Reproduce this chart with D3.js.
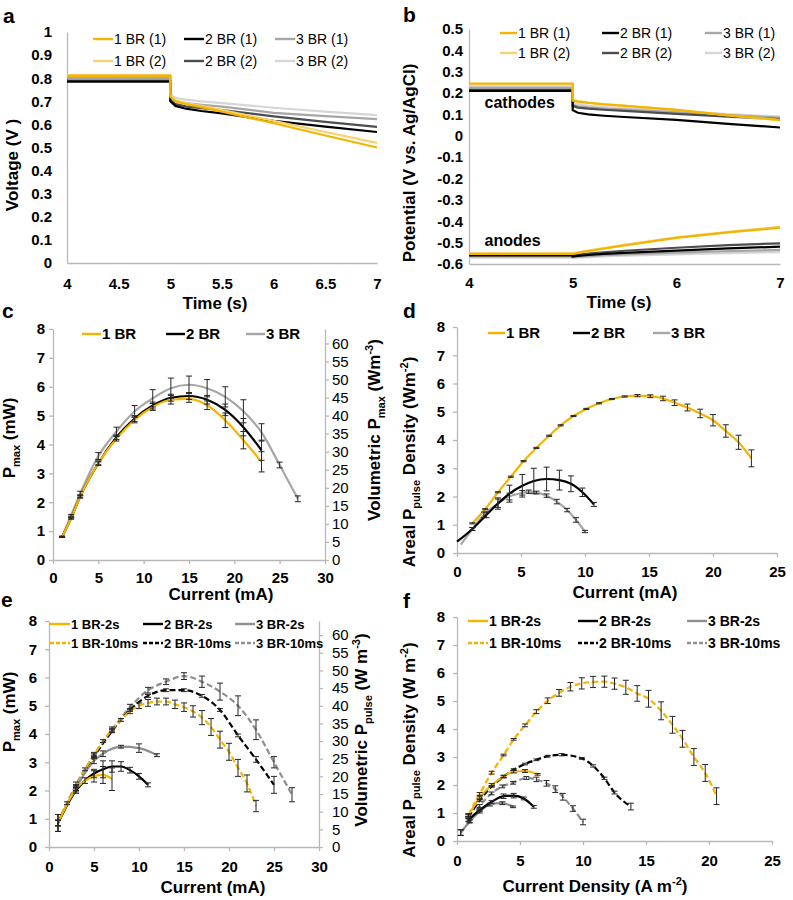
<!DOCTYPE html>
<html>
<head>
<meta charset="utf-8">
<script src="https://cdn.jsdelivr.net/npm/d3@7"></script>
<style>
  body { margin: 0; background: #fff; }
  svg text { font-family: "Liberation Sans", Arial, Helvetica, sans-serif; fill: #000; }
</style>
</head>
<body>
<div id="chart"></div>
<script>
// ---------- panel a / b : step response ----------
var stepTime = [4, 5, 5, 5.05, 5.15, 5.3, 5.5, 6, 6.5, 7];
var aTicksX = [4, 4.5, 5, 5.5, 6, 6.5, 7];
var aTicksY = [0, 0.1, 0.2, 0.3, 0.4, 0.5, 0.6, 0.7, 0.8, 0.9, 1];
var a1BR1 = [0.810, 0.810, 0.720, 0.700, 0.688, 0.675, 0.655, 0.605, 0.552, 0.500];
var a1BR2 = [0.815, 0.815, 0.725, 0.705, 0.692, 0.680, 0.662, 0.615, 0.567, 0.520];
var a2BR1 = [0.785, 0.785, 0.700, 0.680, 0.668, 0.658, 0.648, 0.615, 0.590, 0.567];
var a2BR2 = [0.790, 0.790, 0.705, 0.688, 0.678, 0.670, 0.662, 0.635, 0.611, 0.589];
var a3BR1 = [0.800, 0.800, 0.715, 0.700, 0.692, 0.685, 0.677, 0.650, 0.636, 0.623];
var a3BR2 = [0.808, 0.808, 0.730, 0.715, 0.707, 0.700, 0.692, 0.672, 0.655, 0.640];

var bTicksX = [4, 5, 6, 7];
var bTicksY = [-0.6, -0.5, -0.4, -0.3, -0.2, -0.1, 0, 0.1, 0.2, 0.3, 0.4, 0.5];
var bC1BR1 = [0.245, 0.245, 0.165, 0.160, 0.154, 0.147, 0.140, 0.121, 0.097, 0.075];
var bC1BR2 = [0.240, 0.240, 0.170, 0.163, 0.156, 0.149, 0.142, 0.122, 0.096, 0.072];
var bC2BR1 = [0.210, 0.210, 0.120, 0.108, 0.100, 0.094, 0.088, 0.075, 0.056, 0.039];
var bC2BR2 = [0.215, 0.215, 0.140, 0.132, 0.127, 0.122, 0.117, 0.103, 0.090, 0.078];
var bC3BR1 = [0.225, 0.225, 0.145, 0.138, 0.133, 0.128, 0.123, 0.110, 0.097, 0.085];
var bC3BR2 = [0.230, 0.230, 0.155, 0.147, 0.141, 0.135, 0.129, 0.115, 0.102, 0.090];
var bA1BR1 = [-0.553, -0.553, -0.553, -0.548, -0.540, -0.528, -0.513, -0.478, -0.452, -0.430];
var bA1BR2 = [-0.550, -0.550, -0.550, -0.545, -0.537, -0.525, -0.510, -0.475, -0.449, -0.426];
var bA2BR1 = [-0.560, -0.560, -0.565, -0.562, -0.558, -0.553, -0.548, -0.537, -0.527, -0.519];
var bA2BR2 = [-0.555, -0.555, -0.560, -0.556, -0.551, -0.545, -0.538, -0.524, -0.512, -0.503];
var bA3BR1 = [-0.565, -0.565, -0.568, -0.566, -0.563, -0.559, -0.555, -0.547, -0.540, -0.534];
var bA3BR2 = [-0.570, -0.570, -0.572, -0.570, -0.568, -0.565, -0.561, -0.555, -0.549, -0.544];

// ---------- panel c : Pmax vs current ----------
var powTicksY = [0, 1, 2, 3, 4, 5, 6, 7, 8];
var volTicksY = [0, 5, 10, 15, 20, 25, 30, 35, 40, 45, 50, 55, 60];
var curTicks30 = [0, 5, 10, 15, 20, 25, 30];
var curTicks25 = [0, 5, 10, 15, 20, 25];
var cX12 = [1, 2, 3, 5, 7, 9, 11, 13, 15, 17, 19, 21, 23];
var c1BR = [0.8, 1.45, 2.2, 3.35, 4.2, 4.85, 5.3, 5.55, 5.58, 5.36, 4.84, 4.15, 3.4];
var c1BRerr = [0.02, 0.03, 0.05, 0.08, 0.08, 0.1, 0.12, 0.15, 0.12, 0.15, 0.25, 0.3, 0.35];
var c2BR = [0.8, 1.45, 2.2, 3.35, 4.25, 4.9, 5.35, 5.62, 5.68, 5.55, 5.2, 4.6, 3.8];
var c2BRerr = [0.02, 0.03, 0.05, 0.05, 0.08, 0.1, 0.12, 0.12, 0.12, 0.15, 0.2, 0.3, 0.35];
var cX3 = [1, 2, 3, 5, 7, 9, 11, 13, 15, 17, 19, 21, 23, 25, 27];
var c3BR = [0.8, 1.55, 2.3, 3.6, 4.45, 5.15, 5.6, 5.95, 6.07, 5.95, 5.65, 5.15, 4.42, 3.29, 2.12];
var c3BRerr = [0.02, 0.03, 0.08, 0.12, 0.15, 0.2, 0.3, 0.35, 0.3, 0.3, 0.35, 0.4, 0.3, 0.1, 0.1];

// ---------- panel d : areal pulse density ----------
var dX1 = [1.2, 2.2, 3.2, 4.2, 5.2, 6.2, 7.2, 8.1, 9.1, 10.1, 11.1, 12.1, 13.1, 14.1, 15.1, 16.1, 17.0, 18.0, 19.0, 20.0, 21.0, 22.0, 23.0];
var d1BR = [1.05, 1.55, 2.15, 2.7, 3.25, 3.72, 4.15, 4.52, 4.85, 5.1, 5.3, 5.45, 5.54, 5.57, 5.55, 5.47, 5.32, 5.15, 4.94, 4.7, 4.32, 3.92, 3.35];
var d1BRerr = [0.02, 0.02, 0.02, 0.02, 0.02, 0.02, 0.02, 0.02, 0.02, 0.02, 0.02, 0.02, 0.02, 0.04, 0.05, 0.08, 0.1, 0.12, 0.15, 0.2, 0.22, 0.25, 0.3];
var dX2 = [0, 1.2, 2.3, 3.2, 4.1, 5.1, 6.0, 7.0, 8.0, 8.9, 9.8, 10.7];
var d2BR = [0.4, 0.85, 1.35, 1.75, 2.1, 2.38, 2.55, 2.62, 2.58, 2.45, 2.15, 1.72];
var d2BRerr = [0, 0.05, 0.1, 0.2, 0.3, 0.4, 0.45, 0.42, 0.35, 0.28, 0.15, 0.07];
var dX3 = [0.3, 1.2, 2.1, 3.2, 4.1, 5.1, 5.6, 6.2, 7.0, 7.8, 8.6, 9.3, 10.0];
var d3BR = [0.3, 0.85, 1.35, 1.76, 2.0, 2.13, 2.17, 2.14, 2.03, 1.82, 1.52, 1.17, 0.76];
var d3BRerr = [0, 0.05, 0.1, 0.15, 0.12, 0.08, 0.06, 0.05, 0.06, 0.08, 0.06, 0.08, 0.04];

// ---------- panel e : 2 s vs 10 ms pulses ----------
var eX1BR10 = [1, 2, 3, 4, 5, 6, 7, 8, 9, 10, 11, 12, 13, 14, 15, 16, 17, 18, 19, 20, 21, 22, 23];
var e1BR10 = [0.85, 1.55, 2.15, 2.75, 3.25, 3.75, 4.15, 4.5, 4.8, 5.0, 5.1, 5.15, 5.15, 5.05, 4.95, 4.8, 4.58, 4.25, 3.8, 3.37, 2.8, 2.25, 1.45];
var e1BR10err = [0.3, 0.05, 0.05, 0.05, 0.05, 0.05, 0.05, 0.05, 0.08, 0.1, 0.12, 0.12, 0.12, 0.15, 0.15, 0.2, 0.25, 0.3, 0.3, 0.3, 0.3, 0.3, 0.2];
var eX2BR10 = [1, 3, 5, 7, 9, 11, 13, 15, 17, 19, 21, 23, 25];
var e2BR10 = [0.85, 2.15, 3.2, 4.1, 4.85, 5.35, 5.55, 5.55, 5.35, 4.85, 3.95, 3.1, 2.2];
var e2BR10err = [0.1, 0.05, 0.05, 0.05, 0.05, 0.05, 0.05, 0.05, 0.05, 0.05, 0.05, 0.1, 0.3];
var eX3BR10 = [1, 3, 5, 7, 9, 11, 13, 15, 17, 19, 21, 23, 25, 27];
var e3BR10 = [0.85, 2.2, 3.25, 4.15, 4.95, 5.55, 5.85, 6.05, 5.85, 5.5, 5.0, 4.15, 3.0, 1.85];
var e3BR10err = [0.1, 0.1, 0.1, 0.1, 0.1, 0.1, 0.1, 0.12, 0.2, 0.3, 0.35, 0.35, 0.2, 0.25];
var eX1BR2 = [1, 3, 5, 6, 7];
var e1BR2 = [0.85, 2.05, 2.5, 2.55, 2.4];
var e1BR2err = [0.3, 0.1, 0.2, 0.3, 0.4];
var eX2BR2 = [1, 3, 4, 5, 6, 7, 8, 9, 10, 11];
var e2BR2 = [0.85, 2.0, 2.35, 2.6, 2.75, 2.85, 2.85, 2.72, 2.5, 2.2];
var e2BR2err = [0.3, 0.1, 0.1, 0.15, 0.3, 0.2, 0.17, 0.1, 0.1, 0.07];
var eX3BR2 = [1, 3, 5, 6, 8, 10, 12];
var e3BR2 = [0.85, 2.1, 3.05, 3.3, 3.55, 3.5, 3.25];
var e3BR2err = [0.1, 0.1, 0.1, 0.1, 0.05, 0.15, 0.05];

// ---------- panel f : areal density vs current density ----------
var fX1BR10 = [0.9, 1.8, 2.75, 3.7, 4.5, 5.4, 6.3, 7.2, 8.1, 9.0, 9.9, 10.8, 11.7, 12.5, 13.4, 14.3, 15.2, 16.2, 17.1, 17.9, 18.8, 19.7, 20.6];
var f1BR10 = [0.93, 1.68, 2.44, 3.07, 3.63, 4.13, 4.62, 5.01, 5.29, 5.51, 5.63, 5.68, 5.69, 5.62, 5.49, 5.27, 5.08, 4.65, 4.15, 3.65, 3.0, 2.43, 1.6];
var f1BR10err = [0.05, 0.05, 0.05, 0.03, 0.03, 0.05, 0.07, 0.1, 0.12, 0.15, 0.2, 0.2, 0.2, 0.2, 0.25, 0.28, 0.3, 0.32, 0.3, 0.3, 0.3, 0.3, 0.3];
var fX2BR10 = [0.9, 1.8, 2.75, 3.7, 4.5, 5.4, 6.3, 7.2, 8.3, 9.9, 10.8, 11.7, 12.5, 13.8];
var f2BR10 = [0.85, 1.45, 1.95, 2.3, 2.55, 2.75, 2.9, 3.03, 3.08, 2.95, 2.68, 2.24, 1.73, 1.23];
var f2BR10err = [0.03, 0.03, 0.03, 0.03, 0.03, 0.03, 0.03, 0.03, 0.04, 0.03, 0.04, 0.04, 0.05, 0.12];
var fX3BR10 = [0.3, 1.0, 1.8, 2.75, 3.6, 4.45, 5.5, 6.3, 7.1, 7.8, 8.4, 9.2, 10.0];
var f3BR10 = [0.3, 0.7, 1.25, 1.7, 1.95, 2.08, 2.25, 2.2, 2.06, 1.85, 1.58, 1.16, 0.68];
var f3BR10err = [0.1, 0.05, 0.05, 0.05, 0.05, 0.05, 0.05, 0.08, 0.1, 0.12, 0.12, 0.1, 0.1];
var fX1BR2 = [0.9, 1.8, 2.75, 3.7, 4.5, 5.4, 6.4];
var f1BR2 = [0.9, 1.55, 2.0, 2.3, 2.48, 2.5, 2.38];
var f1BR2err = [0.05, 0.05, 0.05, 0.05, 0.05, 0.05, 0.03];
var fX2BR2 = [0.9, 1.8, 2.75, 3.7, 4.5, 5.3, 6.1];
var f2BR2 = [0.75, 1.1, 1.4, 1.6, 1.62, 1.52, 1.22];
var f2BR2err = [0.05, 0.05, 0.05, 0.08, 0.08, 0.05, 0.05];
var fX3BR2 = [0.3, 1.0, 1.8, 2.6, 3.6, 4.45];
var f3BR2 = [0.3, 0.7, 1.05, 1.3, 1.35, 1.22];
var f3BR2err = [0.1, 0.05, 0.05, 0.05, 0.05, 0.03];

// colours
var YEL = "#f4b400", YEL2 = "#f7d36e", BLK = "#000000", DGR = "#4d4d4d", GRY = "#a6a6a6", LGR = "#d6d6d6", MGR = "#8f8f8f";
var AXIS = "#b8b8b8";

var svg = d3.select("#chart").append("svg").attr("width", 793).attr("height", 900);

function styleAxis(g, size, weight) {
  g.selectAll("path.domain, line").attr("stroke", AXIS).attr("stroke-width", 1.3);
  g.selectAll("text").attr("font-size", size).attr("font-weight", weight).attr("fill", "#000");
}

function panel(o) {
  var p = {};
  p.x = d3.scaleLinear().domain(o.xDomain).range(o.xRange);
  p.y = d3.scaleLinear().domain(o.yDomain).range(o.yRange);
  p.g = svg.append("g");
  var xa = d3.axisBottom(p.x).tickValues(o.xTicks).tickSize(o.tick).tickSizeOuter(0).tickPadding(o.xPad).tickFormat(String);
  var ya = d3.axisLeft(p.y).tickValues(o.yTicks).tickSize(o.tick).tickSizeOuter(0).tickPadding(o.yPad).tickFormat(String);
  styleAxis(p.g.append("g").attr("transform", "translate(0," + o.yRange[0] + ")").call(xa), o.font, "bold");
  styleAxis(p.g.append("g").attr("transform", "translate(" + o.xRange[0] + ",0)").call(ya), o.font, "bold");
  if (o.y2Domain) {
    p.y2 = d3.scaleLinear().domain(o.y2Domain).range(o.yRange);
    var y2a = d3.axisRight(p.y2).tickValues(o.y2Ticks).tickSize(o.tick).tickSizeOuter(0).tickPadding(o.y2Pad).tickFormat(String);
    styleAxis(p.g.append("g").attr("transform", "translate(" + o.xRange[1] + ",0)").call(y2a), o.font, "normal");
  }
  p.lines = p.g.append("g");
  p.bars = p.g.append("g").attr("stroke", "#262626").attr("stroke-width", 1);
  return p;
}

function series(p, xs, ys, color, dash, curve, errs) {
  var pts = xs.map(function(d, i) { return { x: d, y: ys[i], e: errs ? errs[i] : 0 }; });
  var line = d3.line().x(function(d) { return p.x(d.x); }).y(function(d) { return p.y(d.y); }).curve(curve);
  p.lines.append("path").datum(pts)
    .attr("d", line).attr("fill", "none").attr("stroke", color)
    .attr("stroke-width", 2.2).attr("stroke-dasharray", dash || null);
  if (!errs) return;
  var eb = pts.filter(function(d) { return d.e > 0; });
  var sel = p.bars.selectAll(null).data(eb).enter().append("g");
  sel.append("line")
    .attr("x1", function(d) { return p.x(d.x); }).attr("x2", function(d) { return p.x(d.x); })
    .attr("y1", function(d) { return p.y(d.y - d.e); }).attr("y2", function(d) { return p.y(d.y + d.e); });
  [-1, 1].forEach(function(s) {
    sel.append("line")
      .attr("x1", function(d) { return p.x(d.x) - 3; }).attr("x2", function(d) { return p.x(d.x) + 3; })
      .attr("y1", function(d) { return p.y(d.y + s * d.e); }).attr("y2", function(d) { return p.y(d.y + s * d.e); });
  });
}

// rich text with subscripts / superscripts
function rich(x, y, parts, size, opt) {
  opt = opt || {};
  var t = svg.append("text").attr("font-size", size).attr("font-weight", opt.weight || "bold")
    .attr("text-anchor", opt.anchor || "start");
  if (opt.rotate) t.attr("transform", "translate(" + x + "," + y + ") rotate(-90)").attr("dy", "0.35em");
  else t.attr("x", x).attr("y", y);
  var shift = 0;
  parts.forEach(function(pt) {
    var target = pt[1] === "sub" ? size * 0.3 : pt[1] === "sup" ? -size * 0.4 : 0;
    var ts = t.append("tspan").text(pt[0]).attr("dy", target - shift);
    if (pt[1]) ts.attr("font-size", size * 0.65);
    shift = target;
  });
  return t;
}

function legend(items, cols, rows, len, size, weight) {
  items.forEach(function(it, i) {
    var cx = cols[i % cols.length], cy = rows[Math.floor(i / cols.length)];
    svg.append("line").attr("x1", cx).attr("x2", cx + len).attr("y1", cy).attr("y2", cy)
      .attr("stroke", it.color).attr("stroke-width", 2.4).attr("stroke-dasharray", it.dash || null);
    svg.append("text").attr("x", cx + len + 1).attr("y", cy).attr("dy", "0.36em")
      .attr("font-size", size).attr("font-weight", weight).text(it.name);
  });
}

var lin = d3.curveLinear, smooth = d3.curveMonotoneX;

// ================= a =================
var pa = panel({ xDomain: [4, 7], xRange: [67, 377], yDomain: [0, 1], yRange: [263, 32],
  xTicks: aTicksX, yTicks: aTicksY, tick: 0, xPad: 15, yPad: 15, font: 15 });
series(pa, stepTime, a3BR2, LGR, null, lin);
series(pa, stepTime, a3BR1, GRY, null, lin);
series(pa, stepTime, a2BR2, DGR, null, lin);
series(pa, stepTime, a2BR1, BLK, null, lin);
series(pa, stepTime, a1BR2, YEL2, null, lin);
series(pa, stepTime, a1BR1, YEL, null, lin);
var abLegend = [
  { name: "1 BR (1)", color: YEL }, { name: "2 BR (1)", color: BLK }, { name: "3 BR (1)", color: GRY },
  { name: "1 BR (2)", color: YEL2 }, { name: "2 BR (2)", color: DGR }, { name: "3 BR (2)", color: LGR }];
legend(abLegend, [93, 184, 275], [39, 61], 20, 14, "normal");
rich(3, 23, [["a"]], 21);
rich(215, 309, [["Time (s)"]], 17, { anchor: "middle" });
rich(18, 165, [["Voltage (V )"]], 17, { anchor: "middle", rotate: true });

// ================= b =================
var pb = panel({ xDomain: [4, 7], xRange: [469, 780], yDomain: [-0.6, 0.5], yRange: [264, 29],
  xTicks: bTicksX, yTicks: bTicksY, tick: 0, xPad: 13, yPad: 6, font: 15 });
[[bC3BR2, bA3BR2, LGR], [bC3BR1, bA3BR1, GRY], [bC2BR2, bA2BR2, DGR], [bC2BR1, bA2BR1, BLK],
 [bC1BR2, bA1BR2, YEL2], [bC1BR1, bA1BR1, YEL]].forEach(function(s) {
  series(pb, stepTime, s[0], s[2], null, lin);
  series(pb, stepTime, s[1], s[2], null, lin);
});
legend(abLegend, [500, 602, 705], [33, 53], 17, 14, "normal");
rich(pb.x(4.15), pb.y(0.131), [["cathodes"]], 16);
rich(pb.x(4.15), pb.y(-0.514), [["anodes"]], 16);
rich(403, 22, [["b"]], 21);
rich(619, 308, [["Time (s)"]], 17, { anchor: "middle" });
rich(415, 163, [["Potential (V vs. Ag/AgCl)"]], 17, { anchor: "middle", rotate: true });

// ================= c =================
var pc = panel({ xDomain: [0, 30], xRange: [53, 325], yDomain: [0, 8], yRange: [560, 329],
  y2Domain: [0, 64], y2Ticks: volTicksY, y2Pad: 3,
  xTicks: curTicks30, yTicks: powTicksY, tick: 4, xPad: 8, yPad: 4, font: 15 });
series(pc, cX3, c3BR, GRY, null, smooth, c3BRerr);
series(pc, cX12, c2BR, BLK, null, smooth, c2BRerr);
series(pc, cX12, c1BR, YEL, null, smooth, c1BRerr);
legend([{ name: "1 BR", color: YEL }, { name: "2 BR", color: BLK }, { name: "3 BR", color: GRY }],
  [82, 166, 246], [334], 19, 15, "bold");
rich(2, 318, [["c"]], 21);
rich(221, 600, [["Current (mA)"]], 17, { anchor: "middle" });
rich(15, 438, [["P"], ["max", "sub"], [" (mW)"]], 17, { anchor: "middle", rotate: true });
rich(380, 430, [["Volumetric P"], ["max", "sub"], [" (Wm"], ["-3", "sup"], [")"]], 17, { anchor: "middle", rotate: true });

// ================= d =================
var pd = panel({ xDomain: [0, 25], xRange: [457, 777], yDomain: [0, 8], yRange: [553, 327],
  xTicks: curTicks25, yTicks: powTicksY, tick: 4, xPad: 9, yPad: 8, font: 15 });
series(pd, dX3, d3BR, GRY, null, smooth, d3BRerr);
series(pd, dX2, d2BR, BLK, null, smooth, d2BRerr);
series(pd, dX1, d1BR, YEL, null, smooth, d1BRerr);
legend([{ name: "1 BR", color: YEL }, { name: "2 BR", color: BLK }, { name: "3 BR", color: GRY }],
  [488, 573, 653], [333], 17, 15, "bold");
rich(403, 318, [["d"]], 21);
rich(625, 598, [["Current (mA)"]], 17, { anchor: "middle" });
rich(415, 462, [["Areal P"], ["pulse", "sub"], [" Density  (Wm"], ["-2", "sup"], [")"]], 17, { anchor: "middle", rotate: true });

// ================= e =================
var pe = panel({ xDomain: [0, 30], xRange: [49, 319], yDomain: [0, 8], yRange: [847, 621],
  y2Domain: [0, 64], y2Ticks: volTicksY, y2Pad: 9,
  xTicks: curTicks30, yTicks: powTicksY, tick: 4, xPad: 10, yPad: 8, font: 15 });
series(pe, eX3BR10, e3BR10, MGR, "6,3", smooth, e3BR10err);
series(pe, eX2BR10, e2BR10, BLK, "6,3", smooth, e2BR10err);
series(pe, eX1BR10, e1BR10, YEL, "6,3", smooth, e1BR10err);
series(pe, eX3BR2, e3BR2, MGR, null, smooth, e3BR2err);
series(pe, eX2BR2, e2BR2, BLK, null, smooth, e2BR2err);
series(pe, eX1BR2, e1BR2, YEL, null, smooth, e1BR2err);
var efLegend = [
  { name: "1 BR-2s", color: YEL }, { name: "2 BR-2s", color: BLK }, { name: "3 BR-2s", color: MGR },
  { name: "1 BR-10ms", color: YEL, dash: "4,2" }, { name: "2 BR-10ms", color: BLK, dash: "4,2" }, { name: "3 BR-10ms", color: MGR, dash: "4,2" }];
legend(efLegend, [50, 143, 235], [624, 643], 20, 13, "bold");
rich(1, 607, [["e"]], 21);
rich(213, 893, [["Current (mA)"]], 17, { anchor: "middle" });
rich(15, 712, [["P"], ["max", "sub"], [" (mW)"]], 17, { anchor: "middle", rotate: true });
rich(367, 730, [["Volumetric P"], ["pulse", "sub"], [" (W m"], ["-3", "sup"], [")"]], 17, { anchor: "middle", rotate: true });

// ================= f =================
var pf = panel({ xDomain: [0, 25], xRange: [457, 772], yDomain: [0, 8], yRange: [841, 617],
  xTicks: curTicks25, yTicks: powTicksY, tick: 4, xPad: 10, yPad: 8, font: 15 });
series(pf, fX3BR10, f3BR10, MGR, "6,3", smooth, f3BR10err);
series(pf, fX2BR10, f2BR10, BLK, "6,3", smooth, f2BR10err);
series(pf, fX1BR10, f1BR10, YEL, "6,3", smooth, f1BR10err);
series(pf, fX3BR2, f3BR2, MGR, null, smooth, f3BR2err);
series(pf, fX2BR2, f2BR2, BLK, null, smooth, f2BR2err);
series(pf, fX1BR2, f1BR2, YEL, null, smooth, f1BR2err);
legend(efLegend, [468, 578, 687], [621, 643], 20, 14, "bold");
rich(403, 608, [["f"]], 21);
rich(595, 892, [["Current Density (A m"], ["-2", "sup"], [")"]], 17, { anchor: "middle" });
rich(415, 750, [["Areal P"], ["pulse", "sub"], [" Density (W m"], ["-2", "sup"], [")"]], 17, { anchor: "middle", rotate: true });
</script>
</body>
</html>
